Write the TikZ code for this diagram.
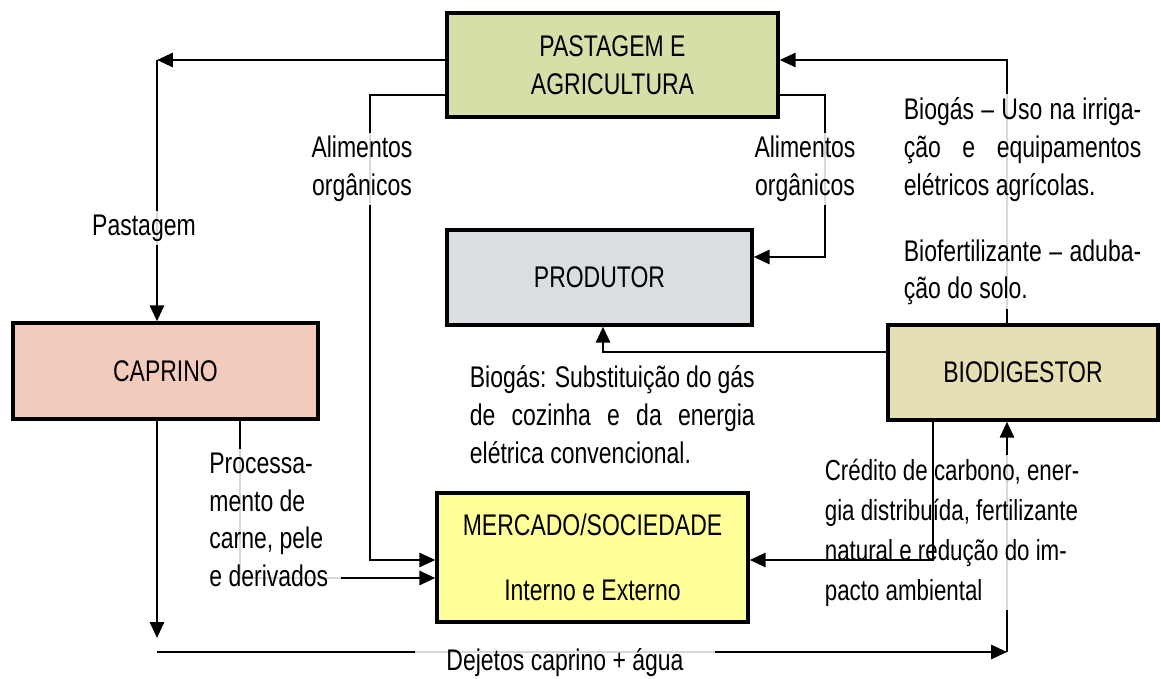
\documentclass[tikz,border=0pt]{standalone}
\usepackage{fontspec}
\setmainfont{Liberation Sans}[FakeStretch=0.77]
\usetikzlibrary{arrows.meta}

\definecolor{pastcol}{RGB}{215,223,168}
\definecolor{prodcol}{RGB}{218,222,226}
\definecolor{capcol}{RGB}{243,203,189}
\definecolor{biocol}{RGB}{229,223,179}
\definecolor{merccol}{RGB}{255,255,153}

\tikzset{
	box/.style={draw, line width=2pt, align=center, inner sep=0pt},
	arr/.style={line width=1.4pt, -{Triangle[length=9pt,width=8pt]}},
	txt/.style={fill=white, fill opacity=0.85, text opacity=1, inner sep=2pt},
}

\begin{document}
\begin{tikzpicture}[x=0.02cm, y=-0.02cm, font=\fontsize{17}{21.5}\selectfont]
	\useasboundingbox (0,0) rectangle (1161,679);
	% boxes
	\node[box, fill=pastcol, minimum width=6.62cm, minimum height=2.08cm] (past) at (612.5,65) {PASTAGEM E\\AGRICULTURA};
	\node[box, fill=prodcol, minimum width=6.1cm, minimum height=1.9cm] (prod) at (599.5,277.5) {PRODUTOR};
	\node[box, fill=capcol, minimum width=6.1cm, minimum height=1.92cm] (cap) at (165.5,371) {CAPRINO};
	\node[box, fill=biocol, minimum width=5.4cm, minimum height=1.9cm] (bio) at (1023,372.5) {BIODIGESTOR};
	\node[box, fill=merccol, minimum width=6.22cm, minimum height=2.58cm] (merc) at (592.5,557.5) {MERCADO/SOCIEDADE\\[5.5mm]Interno e Externo};
	% connectors under the text frames
	\draw[arr] (bio.north -| 1007,0) |- (past.east |- 0,60);
	\draw[arr] (past.west |- 0,60) -- (157,60);
	\draw[arr] (157,60) -- (157,0 |- cap.north);
	\draw[arr] (past.west |- 0,95) -| (370,560) -- (merc.west |- 0,560);
	\draw[arr] (past.east |- 0,95) -| (825,257) -- (prod.east |- 0,257);
	\draw[arr] (cap.south -| 240,0) |- (merc.west |- 0,578);
	\draw[arr] (157,652) -- (1007,652);
	\draw[arr] (1007,652) -- (1007,0 |- bio.south);
	% text frames
	\node[txt] (lpast) at (144,228) {Pastagem};
	\node[txt, align=center] (lali1) at (362,169) {Alimentos\\orgânicos};
	\node[txt, align=center] (lali2) at (805,169) {Alimentos\\orgânicos};
	\node[txt, anchor=north west, text width=4.75cm, align=justify] (luso) at (900,94)
		{Biogás – Uso na irriga-\linebreak ção e equipamentos\linebreak elétricos agrícolas.\par\vspace{0.56cm}Biofertilizante – aduba-\linebreak ção do solo.};
	\node[txt, anchor=north west, text width=5.7cm, align=justify] (lsub) at (466,362)
		{Biogás: Substituição do gás\linebreak de cozinha e da energia\linebreak elétrica convencional.};
	\node[txt, anchor=north west, align=left, minimum width=2.9cm] (lproc) at (196,449)
		{Processa-\\mento de\\carne, pele\\e derivados};
	\node[txt, anchor=north west, align=left, font=\fontsize{16.5}{22.8}\selectfont] (lcred) at (821,455)
		{Crédito de carbono, ener-\\gia distribuída, fertilizante\\natural e redução do im-\\pacto ambiental};
	\node[txt, anchor=north, minimum width=6cm] (ldej) at (565,645) {Dejetos caprino + água};
	% connectors over the text frames
	\draw[arr] (bio.west |- 0,352) -| (prod.south -| 603,0);
	\draw[arr] (bio.south -| 933,0) |- (merc.east |- 0,560);
	\draw[arr] (cap.south -| 157,0) -- (157,638);
\end{tikzpicture}
\end{document}
